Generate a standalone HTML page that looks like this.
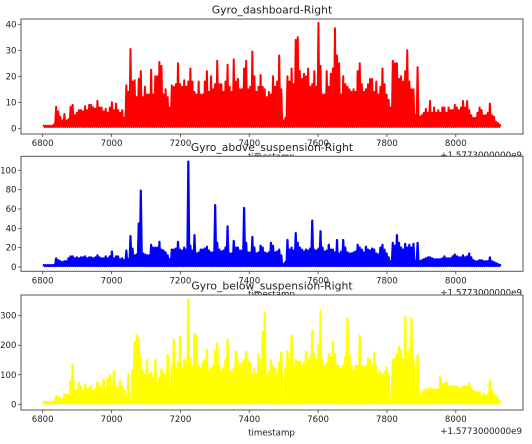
<!DOCTYPE html>
<html>
<head>
<meta charset="utf-8">
<style>
html,body{margin:0;padding:0;background:#fff;width:532px;height:444px;overflow:hidden}
svg{display:block;filter:blur(0.35px)}
text{font-family:"DejaVu Sans","Liberation Sans",sans-serif;fill:#222}
</style>
</head>
<body>
<svg id="chart" width="532" height="444" viewBox="0 0 532 444" xmlns="http://www.w3.org/2000/svg"></svg>
<script>
const xTickValues = [6800, 7000, 7200, 7400, 7600, 7800, 8000];
const dashboardYTicks = [0, 10, 20, 30, 40];
const aboveYTicks = [0, 20, 40, 60, 80, 100];
const belowYTicks = [0, 100, 200, 300];
const offsetLabel = "+1.5773000000e9";
const xAxisLabel = "timestamp";
const firstTimestamp = [6803];
const timestampStep = [6];

const dashboardValues = [
1,1,1,1,1,1.5,8.3,6.5,4.5,3,
5.5,3,3.5,8.3,9,5,6,7,7,6.5,
8.5,7,9,9,8,7.5,10.5,8,8,6.5,
7.5,6,8,10,7,9.5,7,6,7,4,
16.5,14,30.5,18,18.5,12,19,22,12,16,
13,13,22.5,13,20,20,25.5,24,13,15,
12,8,16.5,16,17,25,17,16,18.5,16,
18,23,18,14,13,18,13,13,18,22,
14,20,15,17,26,17,17,14,18,24.5,
16,14,26.5,18,19,15,15,23,26,15,
16,29.5,20,14,16,20.5,16,15,12,14,
13,20,16,18,28,15,3,4,20,18,
23,17,34,35,22,19,21,20,23,16,
17,22,16,40.5,24,13,13,22,16,21,
23,38.5,28,25,13,20,17,16,15,14,
15,14,22,25,17,14,15,17,19,19,
14,18,13,16,23,17,13,11,8,26,
25,25,19,20,18,22,30,18,15,15,
5,23.5,4.5,5,6,7.5,6,10.5,6,8,
6,7,6,8,8,6,8,7,7,9,
8,7,8,10.5,8,10.5,7,5,4,4,
6,8,7,5,5,6,9.5,5,4.5,2.5,
2,1.2];

const aboveValues = [
2,2,2,2,2,2,9,7,6,5,
6,6,9,11,11,9,10,9,10,10,
11,9,10,10,9,10,12,10,9,9,
11,9,11,16,9,11,11,8,9,7,
17,8,32,19,12,13,45,79,14,13,
12,12,23,20,20,20,26,18,17,15,
12,8,18,18,19,26,18,17,20,18,
109,22,17,33,14,15,18,18,19,21,
17,15,15,64,25,18,16,17,20,42,
14,14,27,20,20,17,17,61,25,15,
15,31,20,14,15,22,20,15,14,15,
25,22,15,16,18,12,3,5,28,18,
20,17,35,25,20,18,16,18,17,19,
48,18,17,19,37,20,16,17,23,18,
18,15,28,14,16,28,20,15,14,14,
15,16,23,20,18,15,21,18,17,19,
18,14,13,20,23,18,14,10,6,25,
22,33,25,20,18,24,20,23,20,24,
6,25,6,7,8,9,10,10,9,8,
8,8,8,9,11,9,9,9,11,13,
11,10,10,12,10,11,14,10,7,6,
6,7,7,6,6,6,10,6,5,4,
3,2];

const belowValues = [
8,8,8,8,8,8,28,24,20,16,
35,32,30,78,135,45,50,72,60,45,
68,50,55,62,45,50,75,60,55,85,
40,85,98,60,113,60,55,82,60,45,
30,100,20,115,210,235,225,155,110,100,
150,100,105,90,150,70,90,118,105,100,
167,50,130,218,120,140,230,120,150,145,
354,155,130,238,232,130,120,140,150,185,
110,120,130,180,205,130,110,120,150,218,
110,110,120,178,145,130,140,150,178,150,
138,100,120,100,170,150,245,310,100,110,
150,130,120,100,140,175,10,120,180,150,
232,130,150,145,145,130,140,178,150,160,
248,170,150,200,315,150,130,140,170,160,
210,170,130,130,120,130,160,290,170,130,
110,130,130,232,130,125,130,155,150,130,
175,130,100,110,100,110,125,100,20,150,
155,170,195,180,150,295,150,185,290,150,
30,165,30,40,45,50,50,55,50,50,
50,50,95,70,70,75,60,60,60,60,
60,55,50,60,60,60,70,55,45,42,
40,40,25,35,30,30,80,45,35,25,
15,10];

const dashboardFloor = [0.5];
const aboveFloor = [1];
const belowFloor = [3];

const NS = "http://www.w3.org/2000/svg";
const svg = document.getElementById("chart");
const AX_L = 21, AX_R = 523;

function xScale(t){ return 42.7 + (t - 6800) * 0.34425; }

function make(parent, tag, attrs, text){
  const el = document.createElementNS(NS, tag);
  for (const k in attrs) el.setAttribute(k, attrs[k]);
  if (text !== undefined) el.textContent = text;
  parent.appendChild(el);
  return el;
}

function drawPanel(p){
  const y = v => p.zeroY - v * p.pxPerUnit;
  const g = make(svg, "g", {});
  
  

  const bg = make(g, "rect", {x:AX_L, y:p.top, width:AX_R-AX_L, height:p.bottom-p.top, fill:"#fff"});
  
  

  let d = "";
  const lo = y(p.floor[0]).toFixed(2);
  p.values.forEach((v, i) => {
    const t = firstTimestamp[0] + i * timestampStep[0];
    const x = xScale(t);
    const mid = xScale(t + timestampStep[0] / 2);
    d += (i ? "L" : "M") + x.toFixed(2) + " " + y(v).toFixed(2);
    if (i < p.values.length - 1) d += "L" + mid.toFixed(2) + " " + lo;
  });
  const line = make(g, "path", {d:d, fill:"none", stroke:p.color, "stroke-width":p.lineWidth, "stroke-linejoin":"round", "stroke-linecap":"round"});
  
  

  const frame = make(g, "rect", {x:AX_L, y:p.top, width:AX_R-AX_L, height:p.bottom-p.top, fill:"none", stroke:"#555", "stroke-width":1});
  
  

  xTickValues.forEach(t => {
    const x = xScale(t);
    const tick = make(g, "line", {x1:x, x2:x, y1:p.bottom, y2:p.bottom+3, stroke:"#444", "stroke-width":0.8});
    
    
    const label = make(g, "text", {x:x, y:p.bottom+12, "text-anchor":"middle", "font-size":8.6}, String(t));
    
    
  });

  p.yTicks.forEach(v => {
    const ty = y(v);
    const tick = make(g, "line", {x1:AX_L-3, x2:AX_L, y1:ty, y2:ty, stroke:"#444", "stroke-width":0.8});
    
    
    const label = make(g, "text", {x:16.5, y:ty+3, "text-anchor":"end", "font-size":8.6}, String(v));
    
    
  });

  const xl = make(g, "text", {x:271.5, y:p.bottom+25.5, "text-anchor":"middle", "font-size":8.7}, xAxisLabel);
  
  

  const off = make(g, "text", {x:522, y:p.bottom+24, "text-anchor":"end", "font-size":8.7}, offsetLabel);
  
  

  const title = make(g, "text", {x:272, y:p.top-5.5, "text-anchor":"middle", "font-size":10.8}, p.title);
  
  
}

drawPanel({name:"dashboard", title:"Gyro_dashboard-Right", color:"#ff0000", lineWidth:2, top:19, bottom:134, zeroY:128.3, pxPerUnit:2.6, values:dashboardValues, floor:dashboardFloor, yTicks:dashboardYTicks});
drawPanel({name:"above-suspension", title:"Gyro_above_suspension-Right", color:"#0000ff", lineWidth:2.2, top:156.3, bottom:271.3, zeroY:267, pxPerUnit:0.967, values:aboveValues, floor:aboveFloor, yTicks:aboveYTicks});
drawPanel({name:"below-suspension", title:"Gyro_below_suspension-Right", color:"#ffff00", lineWidth:2.3, top:295, bottom:410, zeroY:404.3, pxPerUnit:0.2953, values:belowValues, floor:belowFloor, yTicks:belowYTicks});
</script>
</body>
</html>
